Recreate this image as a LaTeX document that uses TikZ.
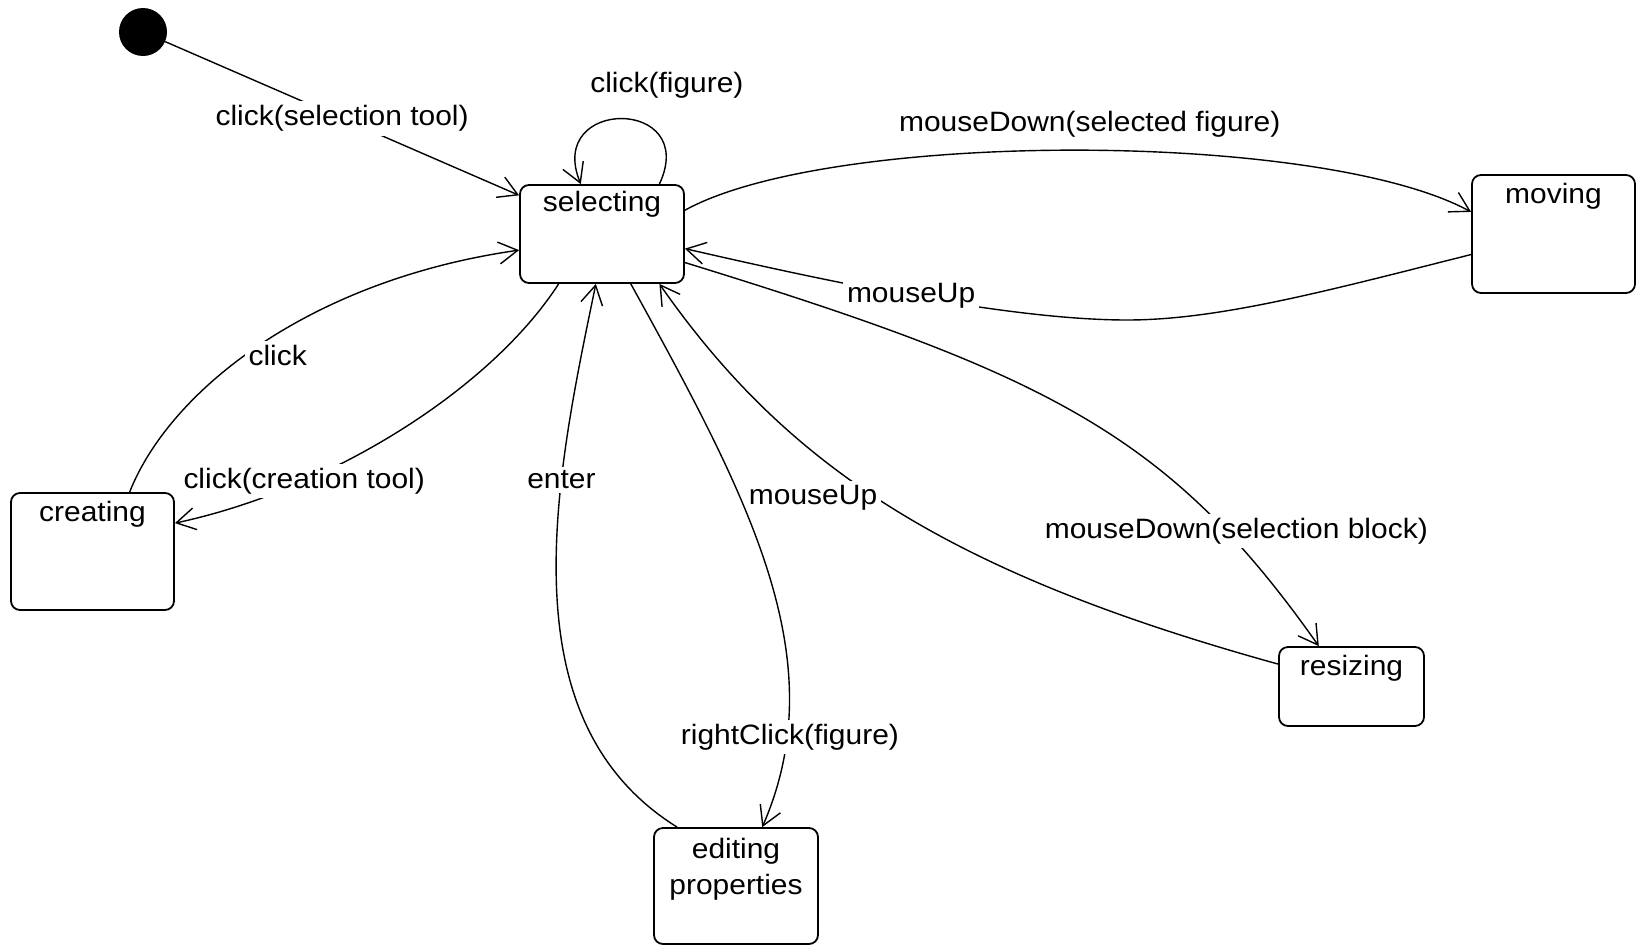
\documentclass[tikz,border=0pt]{standalone}
\usepackage{fontspec}
\setmainfont{Liberation Sans}[FakeStretch=1.07]
\usetikzlibrary{arrows.meta}
\begin{document}
\begin{tikzpicture}[x=1pt, y=-1pt,
  font=\fontsize{28}{34}\selectfont,
  state/.style={draw, line width=1.8pt, rounded corners=9pt, inner sep=0pt},
  statetext/.style={anchor=north, inner sep=0pt, yshift=-9pt, align=center},
  edge/.style={line width=1.4pt, -{Straight Barb[length=19pt,width=22pt]}},
  lbl/.style={fill=white, inner sep=4pt}]
\useasboundingbox (0,0) rectangle (1640,945);

% initial pseudo-state
\node[circle, fill=black, minimum size=48pt, inner sep=0pt] (init) at (143,32) {};

% states
\node[state, minimum width=164pt, minimum height=98pt,
      label={[statetext, yshift=2pt]north:selecting}] (sel) at (602,234) {};
\node[state, minimum width=163pt, minimum height=118pt,
      label={[statetext]north:moving}] (mov) at (1553.5,234) {};
\node[state, minimum width=163pt, minimum height=117pt,
      label={[statetext]north:creating}] (cre) at (92.5,551.5) {};
\node[state, minimum width=145pt, minimum height=79pt,
      label={[statetext]north:resizing}] (res) at (1351.5,686.5) {};
\node[state, minimum width=164pt, minimum height=116pt,
      label={[statetext, yshift=-2pt, font=\fontsize{28}{36}\selectfont]north:editing\\properties}] (edi) at (736,886) {};

% transitions
\draw[edge] (init) -- (sel.155) node[lbl, pos=0.5] {click(selection tool)};

\draw[edge] (sel.41) .. controls (700,97) and (545,97) .. (sel.113)
  node[lbl, pos=0.5, xshift=45pt, yshift=34pt] {click(figure)};

\draw[edge] (sel.16.3) .. controls (830,130) and (1320,130) .. (mov.165.5)
  node[lbl, pos=0.5, xshift=14pt, yshift=26pt] {mouseDown(selected figure)};

\draw[edge] (mov.194) .. controls (1330,290) and (1220,320) .. (1127,320)
  .. controls (1000,320) and (800,275) .. (sel.350)
  node[lbl, pos=0.48] {mouseUp};

\draw[edge] (sel.341.8) .. controls (1050,375) and (1170,435) .. (res.129)
  node[lbl, pos=0.79, xshift=10pt] {mouseDown(selection block)};

\draw[edge] (res.163.5) .. controls (949,573) and (788,468) .. (sel.319)
  node[lbl, pos=0.55, xshift=-52pt, yshift=-7pt] {mouseUp};

\draw[edge] (sel.300) .. controls (750,500) and (835,660) .. (edi.66)
  node[lbl, pos=0.82, xshift=3pt] {rightClick(figure)};

\draw[edge] (edi.135.5) .. controls (505,720) and (555,480) .. (sel.263)
  node[lbl, pos=0.68] {enter};

\draw[edge] (sel.229) .. controls (490,390) and (330,490) .. (cre.19.3)
  node[lbl, pos=0.72] {click(creation tool)};

\draw[edge] (cre.58) .. controls (170,390) and (310,280) .. (sel.191)
  node[lbl, pos=0.45, anchor=west, xshift=2pt, yshift=2pt] {click};
\end{tikzpicture}
\end{document}
